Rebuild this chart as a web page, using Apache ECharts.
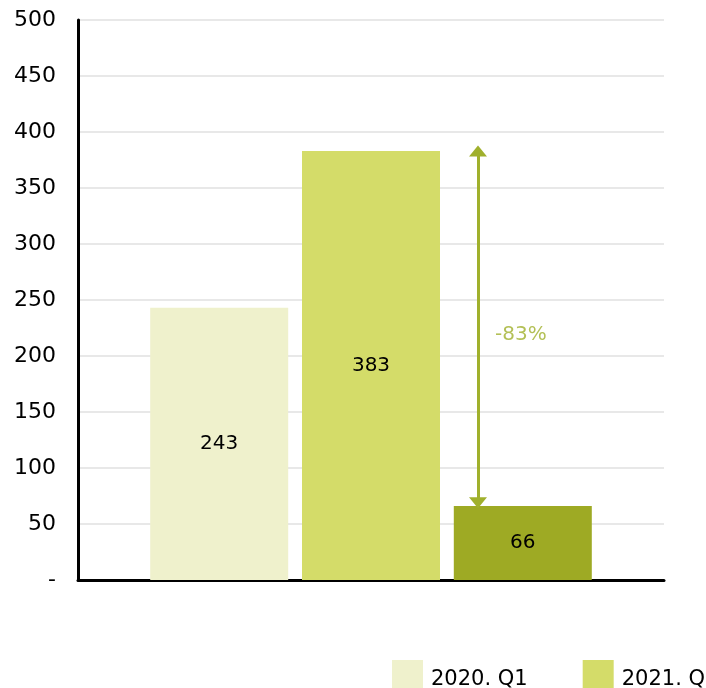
<!DOCTYPE html>
<html><head><meta charset="utf-8">
<script src="https://cdn.jsdelivr.net/npm/echarts@6/dist/echarts.min.js"></script>
<style>html,body{margin:0;padding:0;background:#fff}#c{width:706px;height:688px}</style>
</head><body><div id="c"></div>
<script>
const categories = ['Q1'];
const seriesNames = ['2020. Q1', '2021. Q1', '2022. Q1'];
const values2020 = [243];
const values2021 = [383];
const values2022 = [66];
const changeLabel = '-83%';
const changeFrom = 383;
const changeTo = 66;
const yTicks = [0, 50, 100, 150, 200, 250, 300, 350, 400, 450, 500];

const FONT = 'DejaVu Sans';
const colors = ['#eff1cc', '#d4dc69', '#9eaa24'];
const arrowColor = '#a0b02c';

const chart = echarts.init(document.getElementById('c'), null, {renderer: 'canvas'});
const barLabel = {show: true, position: 'inside', color: '#000', fontSize: 20, fontFamily: FONT};
chart.setOption({
  animation: false,
  grid: {left: 78, right: 42, top: 20, bottom: 108},
  legend: {
    data: seriesNames.slice(0, 2), left: 392, top: 660, width: 600, padding: 0, itemWidth: 31, itemHeight: 30,
    itemGap: 55, icon: 'rect',
    formatter: '{a|{name}}',
    textStyle: {fontSize: 21, fontFamily: FONT, color: '#000',
      rich: {a: {fontSize: 21, fontFamily: FONT, color: '#000', padding: [10, 0, 0, 3]}}}
  },
  xAxis: [
    {type: 'category', data: categories, axisLabel: {show: false}, axisTick: {show: false},
     axisLine: {lineStyle: {color: '#000', width: 3}}},
    {type: 'value', min: 0, max: 586, show: false}
  ],
  yAxis: {
    type: 'value', min: yTicks[0], max: yTicks[yTicks.length - 1], interval: 50,
    axisLine: {show: true, lineStyle: {color: '#000', width: 3}},
    axisTick: {show: false},
    splitLine: {lineStyle: {color: '#e8e8e8', width: 2}},
    axisLabel: {fontSize: 22, fontFamily: FONT, color: '#000', margin: 22,
      formatter: v => v === 0 ? '-' : String(v)}
  },
  series: [
    {name: seriesNames[0], type: 'bar', data: values2020, barWidth: 138, barGap: '10%', itemStyle: {color: colors[0]}, label: barLabel},
    {name: seriesNames[1], type: 'bar', data: values2021, barWidth: 138, barGap: '10%', itemStyle: {color: colors[1]}, label: barLabel},
    {name: seriesNames[2], type: 'bar', data: values2022, barWidth: 138, barGap: '10%', itemStyle: {color: colors[2]}, label: barLabel},
    {type: 'line', xAxisIndex: 1, data: [], silent: true,
      markLine: {
        silent: true, symbol: ['triangle', 'triangle'], symbolSize: [18, 11],
        lineStyle: {color: arrowColor, width: 3, type: 'solid'},
        label: {show: false},
        data: [[{coord: [400, changeFrom]}, {coord: [400, changeTo + 3]}]]
      }},
    {type: 'scatter', xAxisIndex: 1, symbolSize: 0, silent: true,
      data: [[417, 219]],
      label: {show: true, position: 'right', distance: 0, formatter: changeLabel, color: arrowColor, fontSize: 20, fontFamily: FONT}}
  ]
});
</script></body></html>
